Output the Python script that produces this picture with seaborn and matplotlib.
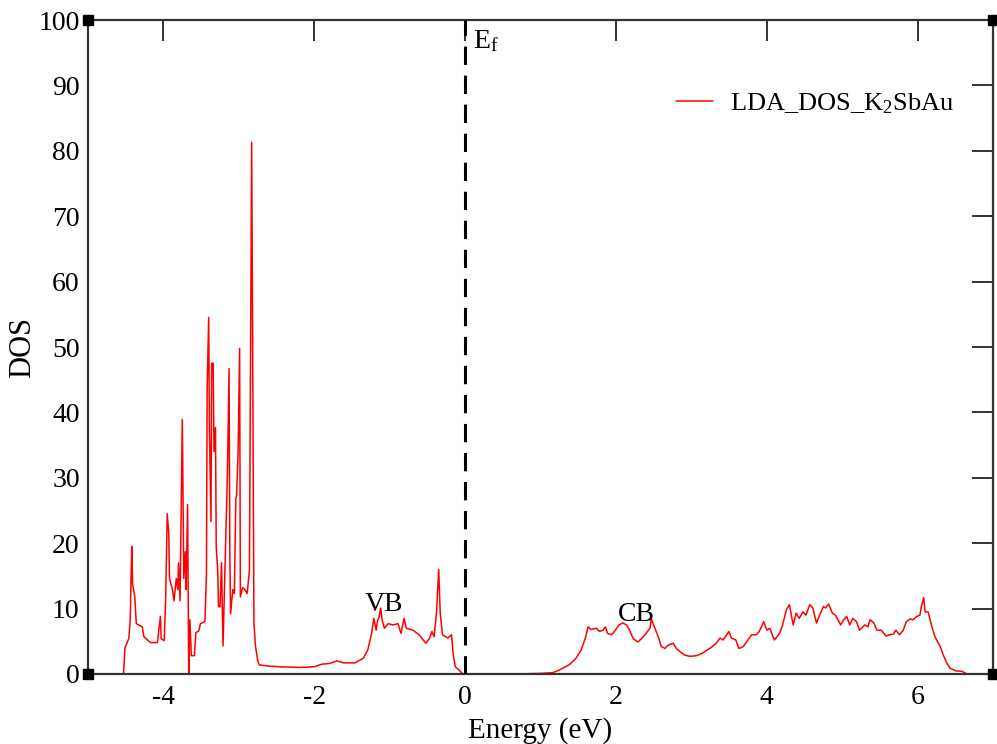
import numpy as np
import pandas as pd
import matplotlib
matplotlib.use("Agg")
import matplotlib.pyplot as plt
import seaborn as sns

# ---- data (energy in eV, DOS) ----
lower_energy = [-4.60, -4.53, -4.51, -4.46, -4.44, -4.43, -4.42, -4.41, -4.38, -4.36, -4.28, -4.26,
                -4.17, -4.08, -4.06, -4.04, -4.03, -3.99, -3.97, -3.95, -3.93, -3.92, -3.88, -3.86,
                -3.83, -3.81, -3.80, -3.78, -3.75, -3.74, -3.73, -3.71, -3.70, -3.69, -3.68, -3.665,
                -3.65, -3.63, -3.59, -3.57, -3.53, -3.51, -3.45, -3.43, -3.42, -3.40, -3.39, -3.37,
                -3.36, -3.34, -3.33, -3.31, -3.30, -3.28, -3.27, -3.25, -3.23, -3.21, -3.19, -3.17,
                -3.15, -3.13, -3.12, -3.11, -3.08, -3.06, -3.04, -3.03, -3.01, -2.99, -2.98, -2.95,
                -2.92, -2.89, -2.86, -2.845, -2.83, -2.815, -2.80, -2.78, -2.75, -2.73, -2.60, -2.44]
lower_dos = [0.0, 0.0, 4.0, 5.4, 8.3, 14.6, 19.5, 13.8, 11.8, 7.7, 7.2, 5.7,
             4.8, 4.8, 6.9, 8.8, 5.4, 5.1, 11.8, 24.5, 21.6, 14.6, 12.9, 11.2,
             14.6, 12.9, 17.0, 11.2, 38.9, 26.8, 14.6, 18.7, 12.9, 19.8, 25.9, 0.0,
             8.3, 2.8, 2.8, 6.3, 6.6, 7.7, 8.0, 15.2, 44.0, 54.5, 37.0, 23.3,
             47.5, 47.5, 34.0, 37.7, 19.3, 15.8, 10.3, 10.3, 17.0, 4.3, 13.5, 23.3,
             31.7, 46.7, 18.7, 9.2, 12.9, 12.3, 26.8, 27.3, 34.0, 49.8, 11.8, 13.2,
             12.9, 12.3, 15.8, 49.8, 81.3, 45.8, 7.7, 4.3, 2.0, 1.4, 1.2, 1.1]

valence_energy = [-2.20, -2.00, -1.90, -1.80, -1.70, -1.61, -1.46, -1.35, -1.29, -1.24, -1.21, -1.18,
                  -1.16, -1.14, -1.12, -1.10, -1.07, -1.02, -0.96, -0.89, -0.85, -0.81, -0.78, -0.69,
                  -0.61, -0.52, -0.47, -0.44, -0.41, -0.38, -0.35, -0.33, -0.30, -0.23, -0.18, -0.16,
                  -0.13, -0.08, -0.04, -0.01]
valence_dos = [1.0, 1.1, 1.5, 1.6, 2.0, 1.7, 1.7, 2.4, 3.7, 6.2, 8.5, 6.7,
               8.2, 8.8, 10.1, 8.2, 7.0, 7.7, 7.5, 7.7, 6.2, 8.5, 7.0, 6.7,
               6.0, 4.7, 5.5, 6.5, 5.7, 9.3, 16.0, 9.3, 6.0, 5.5, 6.0, 3.2,
               1.1, 0.6, 0.1, 0.0]

gap_energy = [0.3, 0.7]
gap_dos = [0.0, 0.0]

conduction_energy = [1.01, 1.16, 1.25, 1.38, 1.47, 1.54, 1.60, 1.63, 1.67, 1.74, 1.78, 1.83,
                     1.86, 1.89, 1.94, 1.98, 2.04, 2.09, 2.14, 2.18, 2.23, 2.29, 2.34, 2.40,
                     2.45, 2.47, 2.51, 2.57, 2.60, 2.65, 2.69, 2.76, 2.80, 2.85, 2.91, 2.98,
                     3.07, 3.15, 3.20, 3.27, 3.33, 3.38, 3.42, 3.50, 3.53, 3.59, 3.63, 3.69,
                     3.75, 3.80, 3.86, 3.90, 3.96, 4.00, 4.04, 4.10, 4.17, 4.21, 4.26, 4.30,
                     4.35, 4.39, 4.43, 4.48, 4.52, 4.57, 4.61, 4.66, 4.70, 4.75, 4.78, 4.82,
                     4.87, 4.91, 4.98, 5.02, 5.06, 5.10, 5.14, 5.19, 5.23, 5.30, 5.34, 5.37,
                     5.42, 5.46, 5.52, 5.58, 5.63, 5.68, 5.71, 5.76, 5.81, 5.85, 5.90, 5.94,
                     5.99, 6.03, 6.05, 6.08, 6.10, 6.14, 6.19, 6.23, 6.30, 6.34, 6.39, 6.43,
                     6.50, 6.59, 6.64]
conduction_dos = [0.1, 0.2, 0.6, 1.4, 2.4, 3.7, 5.7, 7.2, 6.8, 7.0, 6.5, 6.7,
                  7.2, 6.2, 6.0, 6.5, 7.5, 7.8, 7.5, 6.7, 5.4, 4.9, 5.4, 6.2,
                  7.0, 8.4, 7.2, 5.4, 4.2, 3.9, 4.4, 4.7, 3.9, 3.4, 2.9, 2.7,
                  2.8, 3.2, 3.6, 4.1, 4.7, 5.5, 5.2, 6.5, 5.5, 5.2, 3.9, 4.2,
                  5.2, 6.0, 6.0, 6.5, 8.0, 6.7, 7.0, 5.2, 6.2, 7.5, 9.8, 10.6,
                  7.5, 9.3, 8.5, 9.5, 9.0, 10.6, 10.1, 7.8, 9.0, 10.3, 10.1, 10.7,
                  9.3, 9.0, 7.5, 8.3, 8.8, 7.5, 8.5, 8.0, 6.7, 7.5, 7.2, 8.3,
                  7.8, 6.7, 6.7, 5.8, 6.0, 6.1, 6.7, 6.0, 6.7, 8.0, 8.4, 8.3,
                  8.8, 9.0, 10.3, 11.7, 9.5, 9.5, 7.2, 5.7, 4.2, 2.9, 1.6, 0.9,
                  0.5, 0.4, 0.1]

x_ticks = [-4, -2, 0, 2, 4, 6]
y_ticks = [0, 10, 20, 30, 40, 50, 60, 70, 80, 90, 100]
series_label = "LDA_DOS_K$_\\mathrm{2}$SbAu"

energy = lower_energy + valence_energy + gap_energy + conduction_energy
dos = lower_dos + valence_dos + gap_dos + conduction_dos
df = pd.DataFrame({"Energy": energy, "DOS": dos})

# ---- style ----
sns.set_theme(style="white")
plt.rcParams["font.family"] = ["Liberation Serif", "DejaVu Serif"]
plt.rcParams["mathtext.fontset"] = "custom"
plt.rcParams["mathtext.rm"] = "Liberation Serif"
plt.rcParams["mathtext.it"] = "Liberation Serif:italic"
plt.rcParams["text.color"] = "black"
plt.rcParams["axes.labelcolor"] = "black"

fig = plt.figure(figsize=(9.97, 7.44), dpi=100)
ax = fig.add_axes([0.0883, 0.0941, 0.9077, 0.8790])

sns.lineplot(data=df, x="Energy", y="DOS", estimator=None, sort=False,
             color="red", linewidth=1.1, label=series_label, ax=ax)

# Fermi level
ax.axvline(0, color="black", linewidth=2.2, linestyle=(0, (6, 3.5)), zorder=3)
ax.text(0.10, 98.8, "E$_\\mathrm{f}$", fontsize=20, ha="left", va="top", color="black")
ax.text(-1.07, 9.6, "VB", fontsize=20, ha="center", va="baseline", color="black")
ax.text(2.27, 8.1, "CB", fontsize=20, ha="center", va="baseline", color="black")

ax.set_xlim(-5, 7)
ax.set_ylim(0, 100)
ax.set_xticks(x_ticks)
ax.set_yticks(y_ticks)
ax.set_xticklabels([str(t) for t in x_ticks])
ax.set_yticklabels([str(t) for t in y_ticks])

for s in ax.spines.values():
    s.set_color("#333333")
    s.set_linewidth(1.6)
ax.tick_params(axis="both", which="major", direction="in", length=15, width=1.4,
               color="#333333", labelsize=20, top=True, right=True,
               labelcolor="black")
ax.tick_params(axis="x", pad=8)
ax.tick_params(axis="y", pad=6)

ax.set_xlabel("Energy (eV)", fontsize=21, color="black")
ax.set_ylabel("DOS", fontsize=22, color="black")
ax.xaxis.set_label_coords(0.5, -0.066)
ax.xaxis.label.set_verticalalignment("top")
ax.yaxis.set_label_coords(-0.056, 0.5)

leg = ax.legend(loc="center left", bbox_to_anchor=(0.650, 0.872), frameon=False,
                fontsize=19, handlelength=1.4, handletextpad=0.65, borderpad=0,
                borderaxespad=0)
for t in leg.get_texts():
    t.set_color("black")
for h in leg.get_lines():
    h.set_linewidth(1.1)

# corner handle squares
for cx, cy in [(0, 0), (0, 1), (1, 0), (1, 1)]:
    ax.plot([cx], [cy], marker="s", markersize=7.5, color="black",
            transform=ax.transAxes, clip_on=False, zorder=5)

fig.savefig("out.png", dpi=100)
